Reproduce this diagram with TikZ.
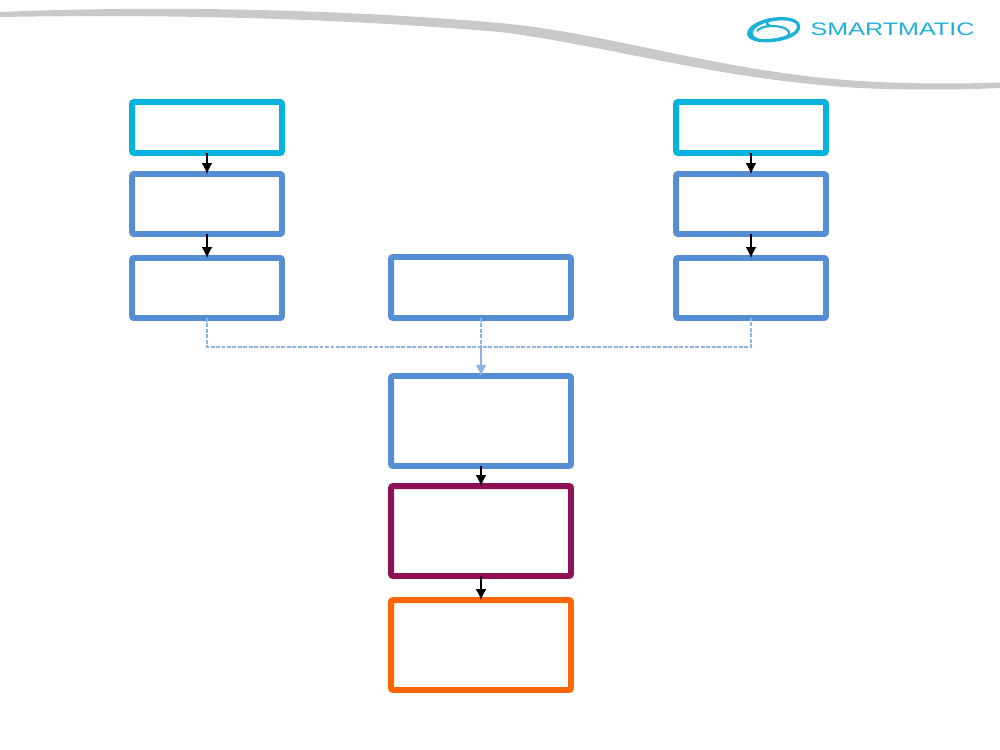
\documentclass[tikz,border=0pt]{standalone}
\usepackage{fontspec}
\usepackage{xcolor}
\usepackage{tikz}
\usetikzlibrary{arrows.meta, positioning, calc}
\setsansfont{Liberation Sans}
\definecolor{swoosh}{HTML}{C9C9C9}
\definecolor{logocyan}{HTML}{1BB0D8}
\definecolor{startcyan}{HTML}{04B2DE}
\definecolor{stepblue}{HTML}{558ED5}
\definecolor{linkblue}{HTML}{8EB4E3}
\definecolor{resultplum}{HTML}{8E1056}
\definecolor{outorange}{HTML}{FF6600}
\tikzset{
    blk/.style={draw=stepblue, fill=white, rounded corners=1.2pt, line width=3.4pt, outer sep=0pt,
                minimum width=3cm},
    startblk/.style={blk, draw=startcyan, minimum height=1.02cm},
    midblk/.style={blk, minimum height=1.2cm},
    wideblk/.style={blk, minimum width=3.6cm, minimum height=1.8cm},
    arr/.style={-{Latex[length=2.2mm,width=2.2mm]}, line width=0.7pt, black},
    dashlink/.style={linkblue, line width=0.7pt, dash pattern=on 2.2pt off 0.9pt},
    sollink/.style={-{Latex[length=2.2mm,width=2.2mm]}, linkblue, line width=1pt}
}
\begin{document}
\begin{tikzpicture}[x=0.02cm, y=-0.02cm]
        \useasboundingbox (0,0) rectangle (1000,750);
        % header band
        \fill[swoosh] (0,12) .. controls (120,7) and (300,6) .. (500,23)
            .. controls (610,33) and (720,72) .. (860,81)
            .. controls (910,84) and (960,84) .. (1000,82.5)
            -- (1000,88) .. controls (960,90) and (900,90) .. (860,88)
            .. controls (720,80) and (610,46) .. (500,32)
            .. controls (300,15) and (120,15) .. (0,17) -- cycle;
        % logo
        \fill[logocyan] (800,25) .. controls (798,15) and (772,15) .. (758,22)
            .. controls (744,28) and (742,40) .. (760,42)
            .. controls (780,44) and (803,36) .. (800,25)
            -- (797,26) .. controls (798,34) and (778,39.5) .. (762,39)
            .. controls (750,38) and (750,30) .. (761,24.5)
            .. controls (772,19.5) and (795,18) .. (797,26) -- cycle;
        \draw[logocyan, line width=1.2pt] (757,31) .. controls (761,26) and (772,25) .. (781,27)
            .. controls (789,29) and (792,33) .. (786,37);
        \draw[logocyan, line width=1.2pt] (775,19.5) .. controls (767,20) and (764,24) .. (770,25.5);
        \node[logocyan, font=\sffamily, inner sep=0pt] (brand)
            at (892.5,29.5) {\scalebox{1.43}[1.03]{SMARTMATIC}};
        % left column
        \node[startblk] (startl) at (207,127.5) {};
        \node[midblk] (regl) at (207,204) {};
        \node[midblk] (sendl) at (207,288) {};
        % right column
        \node[startblk] (startr) at (751,127.5) {};
        \node[midblk] (regr) at (751,204) {};
        \node[midblk] (sendr) at (751,288) {};
        % centre column
        \node[blk, minimum width=3.6cm, minimum height=1.22cm] (sendc) at (481,287.5) {};
        \node[wideblk] (merge) at (481,421) {};
        \node[wideblk, draw=resultplum] (check) at (481,531) {};
        \node[wideblk, draw=outorange] (publish) at (481,645) {};
        \coordinate (joinl) at (207,347);
        \coordinate (joinc) at (481,347);
        \coordinate (joinr) at (751,347);
        % arrows
        \draw[arr] (startl) -- (regl);
        \draw[arr] (regl) -- (sendl);
        \draw[arr] (startr) -- (regr);
        \draw[arr] (regr) -- (sendr);
        \draw[arr] (merge) -- (check);
        \draw[arr] (check) -- (publish);
        % merging links
        \draw[dashlink] (sendl.south) -- (joinl) -- (joinr) -- (sendr.south);
        \draw[dashlink] (sendc.south) -- (joinc);
        \draw[sollink] (joinc) -- (merge.north);
    \end{tikzpicture}
\end{document}
